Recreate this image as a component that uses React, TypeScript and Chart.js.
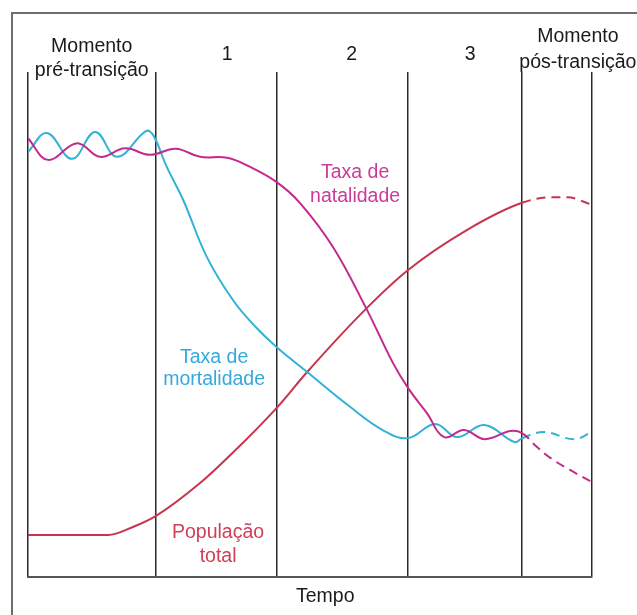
import React, { useEffect, useRef } from "react";
import { Chart, registerables } from "chart.js";

Chart.register(...registerables);

// Time axis (arbitrary units 0-100), rates/population (arbitrary units 0-100)
const phaseBoundaries = [0, 22.7, 44.1, 67.4, 87.6, 100];
const projectionStart = 87.6;

const natalidadeT = [0, 3.55, 8.69, 12.77, 17.2, 21.63, 26.2, 30.5, 35.3, 39.4, 44.1, 48.2, 54.1, 60.1, 64.7, 67.4, 70.7, 73.8, 77.3, 81.0, 85.5, 87.6, 89.9, 92.6, 96.1, 100];
const natalidadeV = [86.9, 82.6, 85.9, 83.2, 84.9, 83.6, 84.8, 83.2, 83.0, 81.2, 78.2, 74.1, 65.3, 52.9, 42.4, 37.4, 32.5, 27.7, 29.1, 27.3, 28.9, 28.5, 26.1, 23.6, 21.2, 18.8];

const mortalidadeT = [0, 3.37, 7.8, 11.9, 15.8, 20.9, 22.2, 24.6, 27.5, 31.7, 36.3, 40.2, 44.1, 49.5, 57.1, 62.9, 67.4, 72.2, 76.1, 80.9, 86.3, 87.6, 91.5, 96.8, 100];
const mortalidadeV = [84.2, 87.9, 82.8, 88.1, 83.2, 88.3, 87.5, 81.2, 74.7, 63.4, 54.9, 49.7, 45.5, 40.6, 33.7, 29.1, 27.5, 30.3, 27.7, 30.1, 26.7, 27.5, 28.7, 27.3, 28.7];

const populacaoT = [0, 14.2, 18.6, 22.7, 30.5, 36.3, 44.1, 49.5, 60.1, 67.4, 77.8, 87.6, 92.6, 95.6, 100];
const populacaoV = [8.3, 8.3, 9.9, 12.1, 18.6, 24.6, 33.5, 40.6, 53.3, 60.8, 68.7, 74.1, 75.2, 75.2, 73.7];

const phaseLabels = [["Momento", "pré-transição"], ["1"], ["2"], ["3"], ["Momento", "pós-transição"]];
const phaseLabelT = [11.3, 35.3, 57.4, 78.4, 97.5];

const seriesLabels = [
  { lines: ["Taxa de", "natalidade"], t: 58.0, v: [79.0, 74.3], color: "#cc3a99" },
  { lines: ["Taxa de", "mortalidade"], t: 33.0, v: [42.4, 38.0], color: "#35a9dc" },
  { lines: ["População", "total"], t: 33.7, v: [7.7, 3.0], color: "#d23e55" },
];
const axisTitle = "Tempo";

const MAGENTA = "#c42a8c";
const CYAN = "#32b2d6";
const RED = "#c9344c";
const FONT = "19.5px 'Liberation Sans', Arial, sans-serif";

const pts = (t: number[], v: number[]) => t.map((x, i) => ({ x, y: v[i] }));

const dashAfter = (ctx: any) => (ctx.p0.parsed.x >= projectionStart - 0.01 ? [9, 6] : undefined);

const framePlugin = {
  id: "frame",
  beforeDraw(chart: any) {
    const c = chart.ctx;
    c.save();
    c.fillStyle = "#ffffff";
    c.fillRect(0, 0, chart.width, chart.height);
    c.strokeStyle = "#6e6e6e";
    c.lineWidth = 2;
    c.beginPath();
    c.moveTo(12, chart.height + 5);
    c.lineTo(12, 13);
    c.lineTo(chart.width + 5, 13);
    c.stroke();
    c.restore();
  },
  afterDraw(chart: any) {
    const c = chart.ctx;
    const xs = chart.scales.x;
    const ys = chart.scales.y;
    const { top, bottom } = chart.chartArea;
    c.save();
    c.font = FONT;
    c.textAlign = "center";
    c.textBaseline = "alphabetic";
    c.fillStyle = "#1a1a1a";
    phaseLabels.forEach((lines, i) => {
      const x = xs.getPixelForValue(phaseLabelT[i]);
      if (lines.length === 1) {
        c.fillText(lines[0], x, top - 12);
      } else if (i === 0) {
        c.fillText(lines[0], x, top - 20);
        c.fillText(lines[1], x, top + 4);
      } else {
        c.fillText(lines[0], x, top - 30);
        c.fillText(lines[1], x, top - 4);
      }
    });
    c.fillText(axisTitle, xs.getPixelForValue(52.7), bottom + 25);
    seriesLabels.forEach((s) => {
      c.fillStyle = s.color;
      const x = xs.getPixelForValue(s.t);
      s.lines.forEach((ln, j) => c.fillText(ln, x, ys.getPixelForValue(s.v[j])));
    });
    c.restore();
  },
};

export default function App() {
  const ref = useRef<HTMLCanvasElement | null>(null);
  useEffect(() => {
    if (!ref.current) return;
    const common = {
      fill: false,
      pointRadius: 0,
      borderWidth: 2,
      tension: 0.4,
      segment: { borderDash: dashAfter },
    };
    const chart = new Chart(ref.current, {
      type: "line",
      data: {
        datasets: [
          { label: "Taxa de natalidade", data: pts(natalidadeT, natalidadeV), borderColor: MAGENTA, ...common },
          { label: "Taxa de mortalidade", data: pts(mortalidadeT, mortalidadeV), borderColor: CYAN, ...common },
          {
            label: "População total",
            data: pts(populacaoT, populacaoV),
            borderColor: RED,
            ...common,
            cubicInterpolationMode: "monotone" as const,
          },
        ],
      },
      options: {
        animation: false,
        responsive: false,
        devicePixelRatio: 1,
        layout: { padding: { left: 28, right: 45, top: 72, bottom: 38 } },
        plugins: { legend: { display: false }, tooltip: { enabled: false } },
        scales: {
          x: {
            type: "linear",
            min: 0,
            max: 100,
            afterBuildTicks: (axis: any) => {
              axis.ticks = phaseBoundaries.map((value) => ({ value }));
            },
            ticks: { display: false },
            grid: { display: true, color: "#2a2a2a", lineWidth: 1.5, drawTicks: false },
            border: { display: true, color: "#555555", width: 2 },
          },
          y: { display: false, min: 0, max: 100 },
        },
      },
      plugins: [framePlugin],
    });
    return () => chart.destroy();
  }, []);
  return (
    <div style={{ position: "fixed", left: 0, top: 0, width: 637, height: 615, background: "#fff" }}>
      <canvas ref={ref} width={637} height={615} />
    </div>
  );
}
